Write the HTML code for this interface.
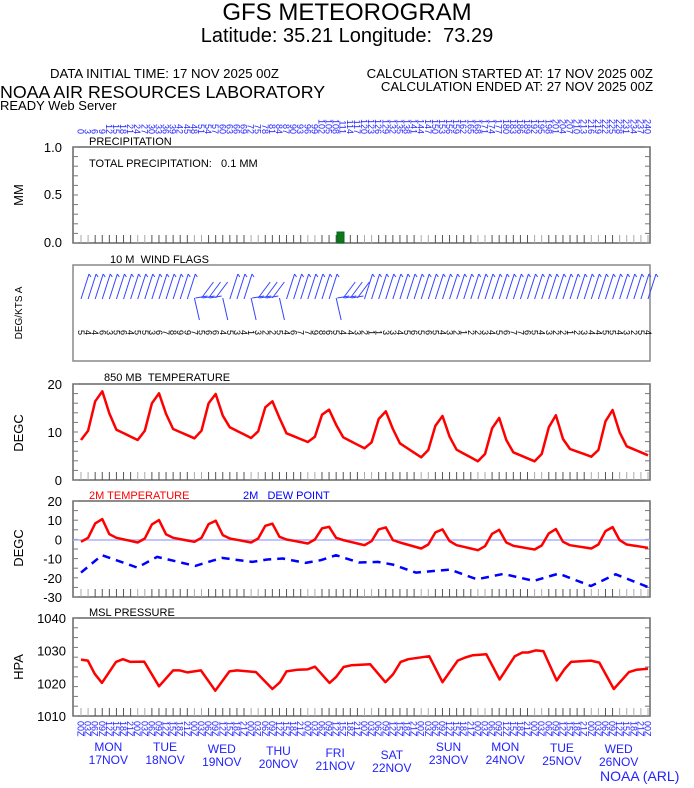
<!DOCTYPE html>
<html><head><meta charset="utf-8"><style>
body{margin:0;background:#fff;width:694px;height:788px;overflow:hidden}
svg{display:block;font-family:"Liberation Sans",sans-serif}
</style></head><body>
<svg id="s" width="694" height="788" xmlns="http://www.w3.org/2000/svg">
<text x="347" y="20" font-size="24" text-anchor="middle">GFS METEOROGRAM</text>
<text x="347" y="42" font-size="20" text-anchor="middle" xml:space="preserve">Latitude: 35.21 Longitude:  73.29</text>
<text x="50" y="78" font-size="13.2">DATA INITIAL TIME: 17 NOV 2025 00Z</text>
<text x="653" y="78" font-size="13.2" text-anchor="end">CALCULATION STARTED AT: 17 NOV 2025 00Z</text>
<text x="653" y="91" font-size="13.2" text-anchor="end">CALCULATION ENDED AT: 27 NOV 2025 00Z</text>
<text x="0" y="98" font-size="17.8">NOAA AIR RESOURCES LABORATORY</text>
<text x="0" y="110" font-size="13">READY Web Server</text>
<text x="600" y="781" font-size="14" fill="#2222ff">NOAA (ARL)</text>
<g id="g"></g>
</svg>
<script>
var g=document.getElementById('g'),h='';
var X0=81,DX=7.0875,L=73,R=650;
function X(i){return X0+DX*i}
function T(x,y,s,t,o){h+='<text x="'+x+'" y="'+y+'" font-size="'+s+'" '+(o||'')+'>'+t+'</text>'}
function panel(top,bot){
 h+='<rect x="'+L+'" y="'+top+'" width="'+(R-L)+'" height="'+(bot-top)+'" fill="none" stroke="#666" stroke-width="1.5"/>';
 for(var i=0;i<=80;i++){var c=(i%8<2||i>75)?'#aaa':'#555';h+='<line x1="'+X(i)+'" y1="'+bot+'" x2="'+X(i)+'" y2="'+(bot-8)+'" stroke="'+c+'"/>';}
 for(var k=0;k<=10;k++){var y=top+(bot-top)*k/10;h+='<line x1="'+L+'" y1="'+y+'" x2="'+(L+5)+'" y2="'+y+'" stroke="#777"/><line x1="'+R+'" y1="'+y+'" x2="'+(R-5)+'" y2="'+y+'" stroke="#777"/>';}
}
function rot(x,y,s,t,anc,col){h+='<text transform="translate('+x+','+y+') rotate(90)" font-size="'+s+'" text-anchor="'+anc+'" fill="'+col+'">'+t+'</text>'}
for(var i=0;i<=80;i++){rot(X(i)-3.5,134,9,String(i*3),'end','#2222ff')}
for(var i=0;i<=80;i++){var hr=(i%8)*3;rot(X(i)-3.5,721,9,(hr<10?'0':'')+hr+'Z','start','#2222ff')}
var days=[['MON','17NOV',0],['TUE','18NOV',0],['WED','19NOV',2],['THU','20NOV',4],['FRI','21NOV',6],['SAT','22NOV',8],['SUN','23NOV',0],['MON','24NOV',0],['TUE','25NOV',1],['WED','26NOV',2]];
days.forEach(function(d,k){var x=X(8*k+4)-1;T(x,751+d[2],12,d[0],'text-anchor="middle" fill="#2222ff"');T(x,764+d[2],12,d[1],'text-anchor="middle" fill="#2222ff"')});
panel(147,243);
T(89,145,11,'PRECIPITATION');T(89,167,11,'TOTAL PRECIPITATION:   0.1 MM','xml:space="preserve"');
T(62,152,13,'1.0','text-anchor="end"');T(62,199,13,'0.5','text-anchor="end"');T(62,247,13,'0.0','text-anchor="end"');
h+='<text transform="translate(23,195) rotate(-90)" font-size="13" text-anchor="middle">MM</text>';
h+='<rect x="337" y="232" width="7" height="11" fill="#117711" stroke="#063"/>';
h+='<rect x="'+L+'" y="265" width="'+(R-L)+'" height="96" fill="none" stroke="#888" stroke-width="1.5"/>';
T(110,263,11,'10 M  WIND FLAGS','xml:space="preserve"');
h+='<text transform="translate(22,313) rotate(-90)" font-size="10" text-anchor="middle">DEG/KTS  A</text>';
var sp='5446356455367899756645341322546779865443211334565654321223456776543221234455432';
for(var i=0;i<=80;i++){
 var x=X(i),down=(i>=16&&i<=20)||(i>=24&&i<=28)||(i>=36&&i<=39);
 if(down&&i%4==0){h+='<line x1="'+x+'" y1="298" x2="'+(x+5)+'" y2="320" stroke="#3344ff"/>';}
 else if(down){h+='<line x1="'+x+'" y1="298" x2="'+(x+12)+'" y2="282" stroke="#3344ff"/><line x1="'+(x-6)+'" y1="298" x2="'+(x+6)+'" y2="296" stroke="#3344ff"/>';}
 else{h+='<line x1="'+x+'" y1="299" x2="'+(x+8)+'" y2="274" stroke="#3344ff"/><line x1="'+(x+8)+'" y1="274" x2="'+(x+10)+'" y2="277" stroke="#3344ff"/>';}
 rot(x-3,330,9,sp[i%sp.length],'start','#000');
}
panel(384,480);
T(104,381,11,'850 MB  TEMPERATURE','xml:space="preserve"');
T(62,389,13,'20','text-anchor="end"');T(62,437,13,'10','text-anchor="end"');T(62,485,13,'0','text-anchor="end"');
h+='<text transform="translate(23,433) rotate(-90)" font-size="13" text-anchor="middle">DEGC</text>';
var d850=[[178,150,62,32,98,147],[178,150,68,38,100,145],[173,150,68,40,105,140],[172,152,80,62,112,158],[184,168,102,87,132,170],[203,185,115,92,145,188],[230,208,135,106,168,207],[242,220,143,112,178,215],[242,220,140,104,175,205],[228,208,122,88,155,197]];
function series(days,last,tr){var v=[];for(var k=0;k<days.length;k++){var d=days[k],nx=k+1<days.length?days[k+1][0]:last;for(var j=0;j<6;j++)v.push(tr(d[j]));v.push(tr(d[5]+(nx-d[5])/3));v.push(tr(d[5]+2*(nx-d[5])/3));}v.push(tr(last));return v}
function pl(pts,col,w,dash){h+='<polyline points="'+pts.join(' ')+'" fill="none" stroke="'+col+'" stroke-width="'+w+'" stroke-linejoin="round"'+(dash?' stroke-dasharray="'+dash+'"':'')+'/>'}
var v=series(d850,224,function(z){return 480-96*(298-z)/288});
pl(v.map(function(y,i){return X(i).toFixed(1)+','+y.toFixed(1)}),'#ff0000',2.5);
panel(501,597);
T(89,499,11,'2M TEMPERATURE','fill="#ff0000"');T(243,499,11,'2M   DEW POINT','fill="#0000ff" xml:space="preserve"');
['20','10','0','-10','-20','-30'].forEach(function(t,k){T(62,506+k*19.2,13,t,'text-anchor="end"')});
h+='<text transform="translate(23,548) rotate(-90)" font-size="13" text-anchor="middle">DEGC</text>';
h+='<line x1="'+L+'" y1="540" x2="'+R+'" y2="540" stroke="#aab0ff" stroke-width="1.5"/>';
var mins=[140,142,140,142,145,150,160,165,163,160],pk=[[85,72],[88,75],[87,77],[92,86],[100,95],[103,97],[112,103],[116,104],[115,102],[108,96]],i4=[117,118,120,125,128,135,138,142,140,135],i5=[128,128,130,133,135,142,150,152,150,148];
var d2=[];for(var k=0;k<10;k++)d2.push([mins[k],mins[k]-12,pk[k][0],pk[k][1],i4[k],i5[k]]);
function m2(z){return 501+96*(z-18)/(305-18)}
var v2=series(d2,158,m2);
pl(v2.map(function(y,i){return X(i).toFixed(1)+','+y.toFixed(1)}),'#ff0000',2.5);
var dp=[[30,232],[85,180],[178,217],[230,185],[330,212],[400,188],[480,200],[520,193],[560,190],[620,203],[660,195],[700,180],[760,202],[810,200],[850,208],[910,232],[1000,223],[1070,252],[1140,236],[1220,257],[1285,235],[1370,272],[1435,237],[1520,275]];
function zx(x){return 81+(x-30)*(567/1490)}
pl(dp.map(function(p){return zx(p[0]).toFixed(1)+','+m2(p[1]).toFixed(1)}),'#0000ff',2.5,'8,6');
panel(618,716);
T(89,616,11,'MSL PRESSURE');
['1040','1030','1020','1010'].forEach(function(t,k){T(66,623+k*32.7,13,t,'text-anchor="end"')});
h+='<text transform="translate(23,667) rotate(-90)" font-size="13" text-anchor="middle">HPA</text>';
var ms=[[30,143],[48,146],[66,185],[85,212],[103,182],[122,150],[140,142],[160,150],[196,149],[235,222],[272,175],[290,175],[310,181],[345,175],[383,235],[420,178],[440,175],[490,180],[533,230],[553,210],[570,178],[600,173],[625,172],[645,164],[683,212],[700,195],[720,165],[740,160],[790,157],[830,210],[850,187],[870,150],[890,142],[945,133],[980,210],[1020,146],[1040,137],[1060,130],[1095,127],[1130,202],[1170,133],[1190,122],[1205,122],[1225,116],[1245,118],[1280,205],[1300,172],[1318,150],[1370,146],[1392,152],[1430,230],[1470,180],[1490,173],[1520,170]];
pl(ms.map(function(p){return zx(p[0]).toFixed(1)+','+(618+98*(p[1]-20)/290).toFixed(1)}),'#ff0000',2.5);
g.innerHTML=h;
</script>
</body></html>
